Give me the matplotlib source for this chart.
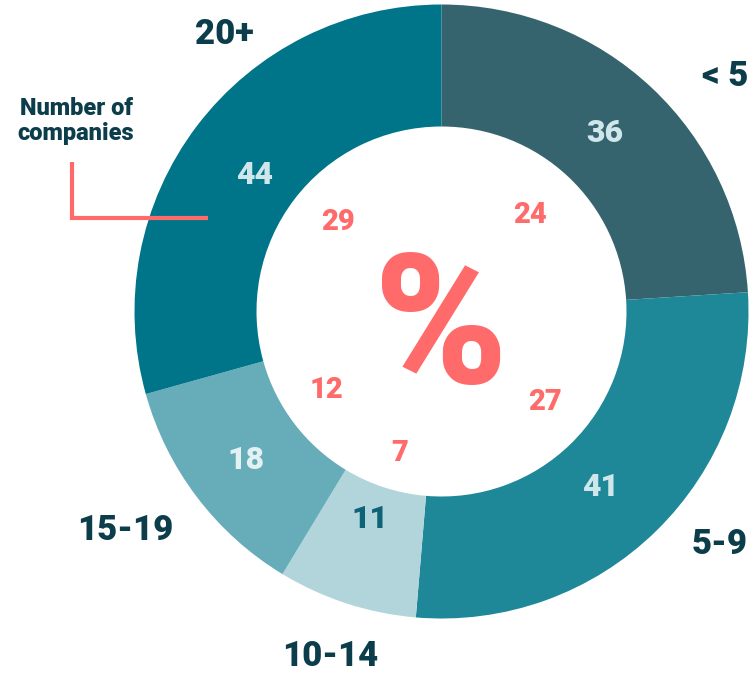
import matplotlib
matplotlib.use("Agg")
import matplotlib.pyplot as plt

# Company size bands and counts
categories = ["< 5", "5-9", "10-14", "15-19", "20+"]
counts = [36, 41, 11, 18, 44]
percents = [24, 27, 7, 12, 29]

wedge_colors = ["#35646f", "#1e8898", "#b2d5dc", "#66adb9", "#00758a"]
count_colors = ["#cfe6ea", "#cfe6ea", "#0e6377", "#e3f1f3", "#cfe6ea"]
dark = "#0c3d4b"
salmon = "#ff6b6b"
heavy = 900

plt.rcParams["font.family"] = ["Roboto", "DejaVu Sans"]

W, H = 752, 675
fig = plt.figure(figsize=(W / 100, H / 100), dpi=100)

cx, cy = 441.5, 311.5
r_out, r_in = 307, 185

# Donut in its own axes, y pointing up, same pixel frame as the figure
pax = fig.add_axes([0, 0, 1, 1])
pax.axis("off")
pax.pie(counts, colors=wedge_colors, startangle=90, counterclock=False,
        radius=r_out, center=(cx, H - cy),
        wedgeprops=dict(width=r_out - r_in, linewidth=0))
pax.set_xlim(0, W)
pax.set_ylim(0, H)
pax.set_aspect("equal")

# Overlay axes for labels, in pixel coordinates from the top-left
ax = fig.add_axes([0, 0, 1, 1])
ax.patch.set_alpha(0)
ax.set_xlim(0, W)
ax.set_ylim(H, 0)
ax.axis("off")

# Count labels inside the ring
count_pos = [(605, 133), (601, 487), (370, 519), (246, 460), (255, 175)]
for (x, y), v, c in zip(count_pos, counts, count_colors):
    ax.text(x, y, str(v), ha="center", va="center", fontsize=23,
            fontweight=heavy, color=c)

# Percent labels on the white centre
pct_pos = [(530, 215), (545, 402), (400, 453), (327, 390), (338, 222)]
for (x, y), v in zip(pct_pos, percents):
    ax.text(x, y, str(v), ha="center", va="center", fontsize=21,
            fontweight=heavy, color=salmon)

ax.text(441, 333, "%", ha="center", va="center", fontsize=130,
        fontweight=heavy, color=salmon)

# Category labels outside the ring
cat_pos = [(725, 77), (720, 545), (330, 656), (125, 530), (224, 35)]
for (x, y), t in zip(cat_pos, categories):
    ax.text(x, y, t, ha="center", va="center", fontsize=25,
            fontweight=heavy, color=dark)

# Annotation explaining the ring values
ax.text(76, 121, "Number of\ncompanies", ha="center", va="center", fontsize=17,
        fontweight=heavy, color=dark, linespacing=1.15)
ax.plot([72, 72, 208], [162, 218, 218], color=salmon, lw=3,
        solid_joinstyle="miter", solid_capstyle="butt")

fig.savefig("out.png", dpi=100)
